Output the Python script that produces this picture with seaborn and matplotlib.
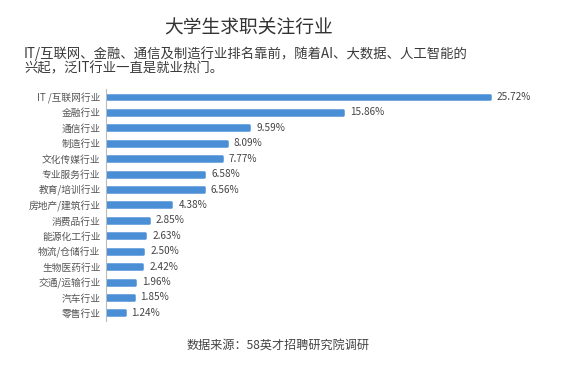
import numpy as np
import seaborn as sns
import matplotlib.pyplot as plt

# 数据
industries = [
    "IT /互联网行业", "金融行业", "通信行业", "制造行业", "文化传媒行业",
    "专业服务行业", "教育/培训行业", "房地产/建筑行业", "消费品行业",
    "能源化工行业", "物流/仓储行业", "生物医药行业", "交通/运输行业",
    "汽车行业", "零售行业",
]
shares = [25.72, 15.86, 9.59, 8.09, 7.77, 6.58, 6.56, 4.38, 2.85,
          2.63, 2.50, 2.42, 1.96, 1.85, 1.24]

sns.set_theme(style="white")
plt.rcParams["font.family"] = ["Noto Sans CJK SC", "DejaVu Sans"]

fig = plt.figure(figsize=(5.87, 3.66), dpi=100)
ax = fig.add_axes([0.1806, 0.124, 0.74, 0.632])

bar_color = "#4a8fd6"
sns.barplot(
    x=shares,
    y=industries,
    orient="h",
    color=bar_color,
    width=0.32,
    saturation=1,
    ax=ax,
)

# 圆角效果
for p in ax.patches:
    p.set_edgecolor(bar_color)
    p.set_linewidth(1.8)
    p.set_joinstyle("round")

for i, v in enumerate(shares):
    ax.annotate(
        f"{v:.2f}%",
        xy=(v, i),
        xytext=(5, 0),
        textcoords="offset points",
        va="center",
        ha="left",
        fontsize=7.2,
        color="#444444",
    )

ax.set_xlim(0, 29.1)
ax.set_ylim(len(industries) - 0.5, -0.5)
ax.set_xticks([])
ax.set_xlabel("")
ax.set_ylabel("")

for s in ["top", "right", "bottom"]:
    ax.spines[s].set_visible(False)
ax.spines["left"].set_color("#bbbbbb")
ax.spines["left"].set_linewidth(0.8)

ax.tick_params(axis="y", which="major", length=0, pad=4,
               labelsize=7, labelcolor="#555555")
ax.set_yticks(np.arange(-0.5, len(industries), 1), minor=True)
ax.tick_params(axis="y", which="minor", length=3, width=0.6,
               color="#bbbbbb", direction="out")

fig.text(0.423, 0.923, "大学生求职关注行业", ha="center", va="center",
         fontsize=13.5, color="#333333")
fig.text(0.041, 0.853, "IT/互联网、金融、通信及制造行业排名靠前，随着AI、大数据、人工智能的",
         ha="left", va="center", fontsize=9.6, color="#3a3a3a")
fig.text(0.041, 0.812, "兴起，泛IT行业一直是就业热门。",
         ha="left", va="center", fontsize=9.6, color="#3a3a3a")
fig.text(0.474, 0.057, "数据来源：58英才招聘研究院调研", ha="center", va="center",
         fontsize=8.7, color="#444444")

fig.savefig("out.png", dpi=100)
